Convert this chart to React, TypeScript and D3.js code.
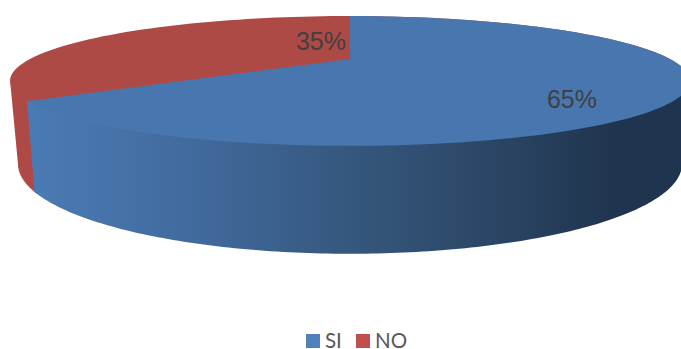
import React from "react";
import * as d3 from "d3";

const categories = ["SI", "NO"];
const shares = [65, 35];
const shareLabels = ["65%", "35%"];
const topColors = ["#4877b0", "#ae4a46"];
const legendColors = ["#4f81bd", "#c0504d"];
const wallStops: [number, string][] = [
  [0, "#4a7ab4"],
  [0.22, "#426ca0"],
  [0.48, "#36587f"],
  [0.72, "#2a4563"],
  [0.9, "#1f344e"],
  [1, "#1f344e"],
];

const W = 681;
const H = 349;
const TILT = 0.338;

// One horizontal plane of the disc seen in perspective.
type Plane = { cx: number; cy: number; a: number; b: number };
const topPlane: Plane = { cx: 350, cy: 59, a: 320, b: 57.5 };
const basePlane: Plane = { cx: 350, cy: 133.5, a: 312.5, b: 79.6 };
// Upper edge of the side walls, tucked just under the top face so no pale seam shows.
const wallTopPlane: Plane = { ...topPlane, cy: topPlane.cy - 1.5 };

const project = (p: Plane, angle: number): [number, number] => {
  const w = 1 + TILT * Math.cos(angle);
  return [p.cx + (p.a * Math.sin(angle)) / w, p.cy - (p.b * Math.cos(angle)) / w];
};

const sweep = (from: number, to: number, n = 160) =>
  d3.range(n + 1).map((i) => from + ((to - from) * i) / n);

const line = d3.line<[number, number]>();

export default function App() {
  const pie = d3.pie<number>().sort(null).startAngle(0).endAngle(2 * Math.PI);
  const [si, no] = pie(shares);

  // Angles at which the rim turns into the silhouette of the side wall.
  const edgeRight = Math.acos(-TILT);
  const edgeLeft = 2 * Math.PI - edgeRight;

  const slicePath = (start: number, end: number) =>
    line([[topPlane.cx, topPlane.cy], ...sweep(start, end).map((t) => project(topPlane, t))]) + "Z";

  const wallPath = (start: number, end: number) =>
    line([
      ...sweep(start, end).map((t) => project(wallTopPlane, t)),
      ...sweep(end, start).map((t) => project(basePlane, t)),
    ]) + "Z";

  const x = d3.scaleLinear().domain([0, 1]).range([35, W]);

  return (
    <svg
      width={W}
      height={H}
      viewBox={`0 0 ${W} ${H}`}
      style={{ position: "absolute", left: 0, top: 0, display: "block" }}
    >
      <defs>
        <linearGradient id="wall" gradientUnits="userSpaceOnUse" x1={x(0)} x2={x(1)} y1={0} y2={0}>
          {wallStops.map(([o, c]) => (
            <stop key={o} offset={o} stopColor={c} />
          ))}
        </linearGradient>
      </defs>

      {/* The red wall runs under the blue one, which keeps their shared edge clean. */}
      <path d={wallPath(no.startAngle - 0.02, edgeLeft)} fill={topColors[1]} />
      <path d={slicePath(0, 2 * Math.PI)} fill={topColors[1]} />
      <path d={wallPath(edgeRight, si.endAngle)} fill="url(#wall)" />
      <path d={slicePath(si.startAngle, si.endAngle)} fill={topColors[0]} />

      <g fontFamily="'Liberation Sans', Arial, sans-serif" fontSize={25} fill="#404040" textAnchor="middle">
        <text x={572} y={108}>{shareLabels[0]}</text>
        <text x={321} y={50}>{shareLabels[1]}</text>
      </g>

      <g fontFamily="Lato, sans-serif" fontSize={20.5} fill="#595959">
        {categories.map((c, i) => (
          <g key={c} transform={`translate(${i === 0 ? 306 : 356},0)`}>
            <rect x={0} y={334} width={14} height={14} fill={legendColors[i]} />
            <text x={19} y={348}>{c}</text>
          </g>
        ))}
      </g>
    </svg>
  );
}
